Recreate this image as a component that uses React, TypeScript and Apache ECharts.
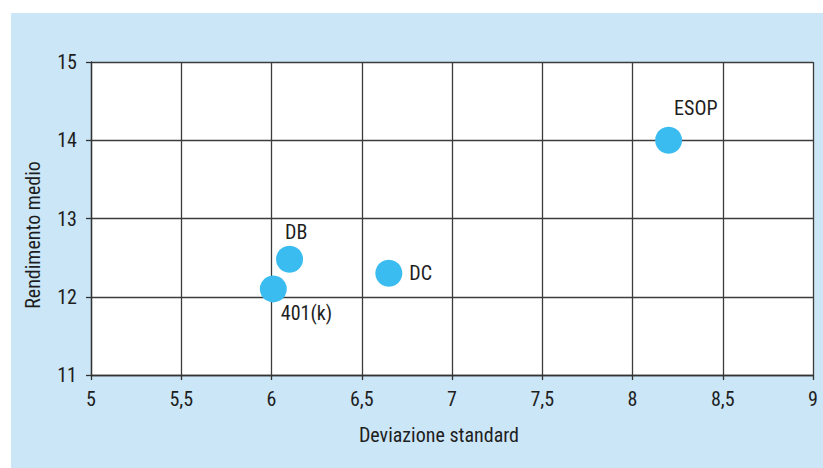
import React, { useEffect, useRef } from "react";
import * as echarts from "echarts";

const names = ["401(k)", "DB", "DC", "ESOP"];
const devStd = [6.01, 6.1, 6.65, 8.2];
const rendimento = [12.1, 12.48, 12.3, 14.0];
const labelOffsets: [number, number][] = [[-11, 24], [-23, -27], [2, 0], [-13, -32]];
const xTicks = { min: 5, max: 9, interval: 0.5 };
const yTicks = { min: 11, max: 15, interval: 1 };

const FONT = "'Liberation Sans Narrow', 'Roboto Condensed', Roboto, sans-serif";
const TXT = "#1e1e1e";

export default function App() {
  const ref = useRef<HTMLDivElement>(null);
  useEffect(() => {
    if (!ref.current) return;
    const chart = echarts.init(ref.current, undefined, { renderer: "svg" });
    const fmt = (v: number) => String(v).replace(".", ",");
    chart.setOption({
      animation: false,
      graphic: [
        { type: "rect", z: -10, shape: { x: 11, y: 13, width: 812, height: 455 }, style: { fill: "#cbe6f7" } },
        {
          type: "text", x: 33, y: 235, rotation: Math.PI / 2,
          style: { text: "Rendimento medio", fontSize: 20, fontFamily: FONT, fill: TXT, textAlign: "center", textVerticalAlign: "middle" },
        },
        {
          type: "text", x: 439, y: 435,
          style: { text: "Deviazione standard", fontSize: 20, fontFamily: FONT, fill: TXT, textAlign: "center", textVerticalAlign: "middle" },
        },
      ],
      grid: { left: 91, top: 62, right: 10, bottom: 93, show: true, backgroundColor: "#ffffff", borderWidth: 0 },
      xAxis: {
        type: "value", ...xTicks,
        axisLine: { show: true, lineStyle: { color: "#333", width: 1.3 } },
        axisTick: { show: true, length: 5, inside: false, lineStyle: { color: "#333", width: 1.3 } },
        splitLine: { show: true, lineStyle: { color: "#3c3c3c", width: 1.3 } },
        axisLabel: { formatter: fmt, fontSize: 20, fontFamily: FONT, color: TXT, margin: 14 },
      },
      yAxis: {
        type: "value", ...yTicks,
        axisLine: { show: true, lineStyle: { color: "#333", width: 1.3 } },
        axisTick: { show: true, length: 5, inside: false, lineStyle: { color: "#333", width: 1.3 } },
        splitLine: { show: true, lineStyle: { color: "#3c3c3c", width: 1.3 } },
        axisLabel: { formatter: fmt, fontSize: 20, fontFamily: FONT, color: TXT, margin: 14 },
      },
      series: [
        {
          type: "scatter",
          symbolSize: 27,
          itemStyle: { color: "#3bbcf0", opacity: 1 },
          data: names.map((n, i) => ({
            name: n,
            value: [devStd[i], rendimento[i]],
            label: {
              show: true, position: "right", offset: labelOffsets[i], formatter: n,
              fontSize: 20, fontFamily: FONT, color: TXT,
            },
          })),
        },
      ],
    });
    return () => chart.dispose();
  }, []);
  return <div ref={ref} style={{ position: "absolute", left: 0, top: 0, width: 823, height: 468 }} />;
}
